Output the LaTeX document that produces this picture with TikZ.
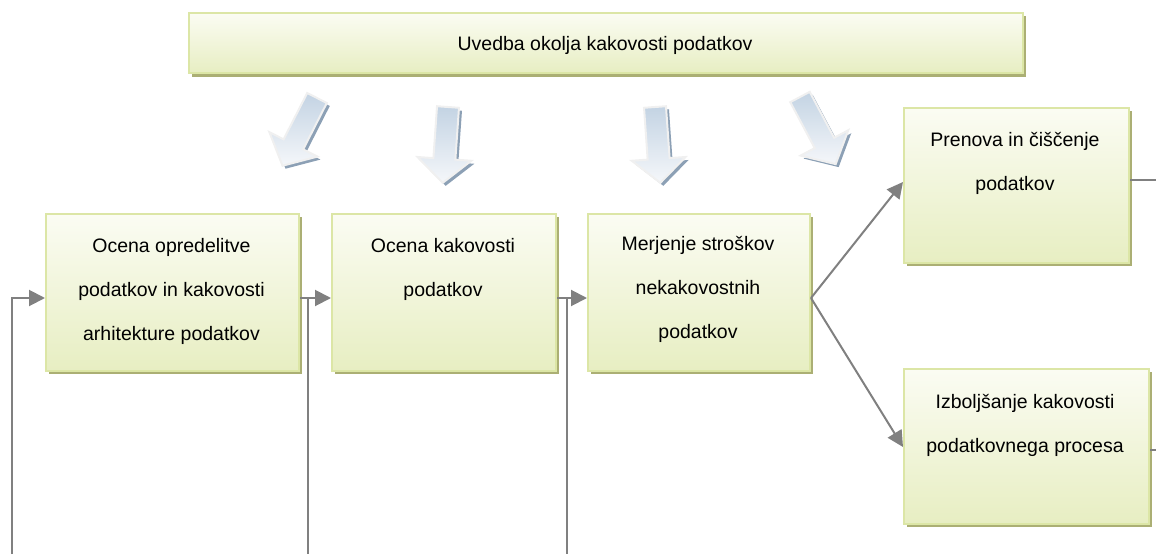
\documentclass[tikz,border=0pt]{standalone}
\usepackage{fontspec}
\setmainfont{Liberation Sans}
\usetikzlibrary{arrows.meta}
\definecolor{boxtop}{HTML}{FBFCF3}
\definecolor{boxbot}{HTML}{E7EEC2}
\definecolor{boxedge}{HTML}{DCE6A6}
\definecolor{boxshadow}{HTML}{ABAF74}
\definecolor{conn}{HTML}{808080}
\definecolor{arrtop}{HTML}{C3D3E3}
\definecolor{arrbot}{HTML}{F5F7FA}
\definecolor{arredge}{HTML}{F0F0F0}
\definecolor{arrside}{HTML}{8CA0B5}
\newcommand\flowarrow[3]{%
  \begin{scope}[shift={(#1+3,#2+3)},rotate=#3]
    \fill[arrside] (-11,0) -- (11,0) -- (11,52) -- (27,52) -- (0,76) -- (-27,52) -- (-11,52) -- cycle;
  \end{scope}
  \begin{scope}[shift={(#1,#2)},rotate=#3]
    \path[blockarrow] (-11,0) -- (11,0) -- (11,52) -- (27,52) -- (0,76) -- (-27,52) -- (-11,52) -- cycle;
  \end{scope}}
\begin{document}
\begin{tikzpicture}[x=1pt,y=-1pt,
  box/.style={draw=boxedge, line width=2pt, top color=boxtop, bottom color=boxbot,
    rectangle, inner sep=0, anchor=north west},
  shadowbox/.style={fill=boxshadow},
  txt/.style={font=\fontsize{19.5}{44}\selectfont, align=center, inner sep=0},
  conn/.style={draw=conn, line width=2pt},
  tip/.style={-{Triangle[length=16pt,width=16pt]}},
  blockarrow/.style={draw=arredge, line width=2pt, top color=arrtop, bottom color=arrbot}]
\useasboundingbox (0,0) rectangle (1156,554);
% shadows
\fill[shadowbox] (192,16) rectangle (1026,77);
\fill[shadowbox] (49,217) rectangle (302,374);
\fill[shadowbox] (335,217) rectangle (559,374);
\fill[shadowbox] (591,217) rectangle (813,374);
\fill[shadowbox] (907,111) rectangle (1132,266);
\fill[shadowbox] (907,372) rectangle (1152,527);
% boxes
\node[box, minimum width=834pt, minimum height=60pt] (top) at (188,12) {};
\node[txt] (toptext) at (605,45) {Uvedba okolja kakovosti podatkov};
\node[box, minimum width=253pt, minimum height=157pt] (b1) at (45,213) {};
\node[box, minimum width=224pt, minimum height=157pt] (b2) at (331,213) {};
\node[box, minimum width=222pt, minimum height=157pt] (b3) at (587,213) {};
\node[box, minimum width=225pt, minimum height=155pt] (b4) at (903,107) {};
\node[box, minimum width=245pt, minimum height=155pt] (b5) at (903,368) {};
% texts (anchored at the baseline of the last line)
\node[txt, anchor=base] (t1) at (171.5,340) {Ocena opredelitve\\podatkov in kakovosti\\arhitekture podatkov};
\node[txt, anchor=base] (t2) at (443,296) {Ocena kakovosti\\podatkov};
\node[txt, anchor=base] (t3) at (698,338) {Merjenje stroškov\\nekakovostnih\\podatkov};
\node[txt, anchor=base] (t4) at (1015,190) {Prenova in čiščenje\\podatkov};
\node[txt, anchor=base] (t5) at (1025,452) {Izboljšanje kakovosti\\podatkovnega procesa};
% block arrows
\flowarrow{317}{98}{-27}
\flowarrow{448}{107}{-4}
\flowarrow{655}{107}{4}
\flowarrow{800}{97}{28}
% connectors
\coordinate (row) at (0,298);
\coordinate (p4) at (0,182);
\coordinate (p5) at (0,447);
\coordinate (f1) at (12,554);
\coordinate (j1) at (308,298);
\coordinate (f2) at (308,554);
\coordinate (j2) at (567,298);
\coordinate (f3) at (567,554);
\coordinate (e4) at (1156,180);
\coordinate (e5) at (1156,450);
\draw[conn, tip] (f1) |- (b1.west |- row);
\draw[conn, tip] (b1.east |- row) -- (b2.west |- row);
\draw[conn] (j1) -- (f2);
\draw[conn, tip] (b2.east |- row) -- (b3.west |- row);
\draw[conn] (j2) -- (f3);
\draw[conn, tip] (b3.east |- row) -- (b4.west |- p4);
\draw[conn, tip] (b3.east |- row) -- (b5.west |- p5);
\draw[conn] (b4.east |- e4) -- (e4);
\draw[conn] (b5.east |- e5) -- (e5);
\end{tikzpicture}
\end{document}
